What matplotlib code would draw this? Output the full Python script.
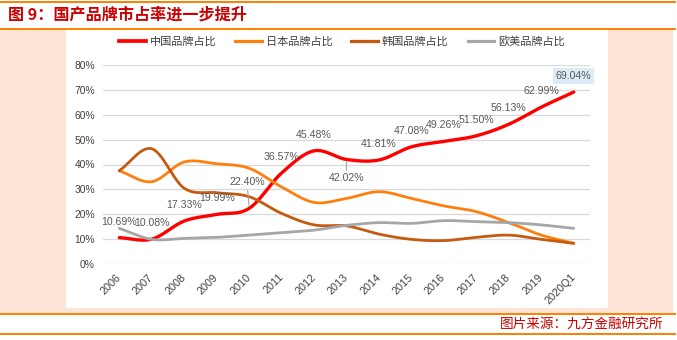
import matplotlib

matplotlib.use("Agg")

import matplotlib.pyplot as plt
import numpy as np
from matplotlib.lines import Line2D
from matplotlib.patches import Rectangle


YEARS = ["2006", "2007", "2008", "2009", "2010", "2011", "2012", "2013",
         "2014", "2015", "2016", "2017", "2018", "2019", "2020Q1"]
CHINA = [10.69, 10.08, 17.33, 19.99, 22.40, 36.57, 45.48, 42.02,
         41.81, 47.08, 49.26, 51.50, 56.13, 62.99, 69.04]
JAPAN = [37.5, 33.1, 41.0, 40.3, 38.5, 31.0, 24.8, 26.4,
         29.1, 26.4, 23.4, 21.1, 16.7, 11.7, 8.4]
KOREA = [37.5, 46.3, 30.5, 28.7, 27.1, 20.4, 15.8, 15.4,
         12.1, 10.0, 9.5, 10.8, 11.7, 10.0, 8.4]
WESTERN = [14.4, 10.0, 10.4, 10.8, 11.7, 12.7, 13.7, 15.6,
           16.7, 16.4, 17.5, 17.1, 16.7, 15.8, 14.4]
SERIES_NAMES = ["中国品牌占比", "日本品牌占比", "韩国品牌占比", "欧美品牌占比"]
Y_TICKS = [0, 10, 20, 30, 40, 50, 60, 70, 80]

TITLE = "图 9：国产品牌市占率进一步提升"
SOURCE = "图片来源：九方金融研究所"

W, H = 677, 340
RED = "#FF0000"
ORANGE = "#FF7F0E"
BROWN = "#C55A11"
GREY = "#A6A6A6"
FRAME = "#FF7F00"
PEACH = "#FCE4D6"
TITLE_RED = "#CC0000"
TEXT = "#595959"
TICK = "#404040"
CJK = ["Noto Sans CJK SC", "DejaVu Sans"]


def fx(px):
    return px / W


def fy(py):
    return 1 - py / H


def smooth(xs, ys, n=24):
    # Catmull-Rom curve through the points, like Excel's smoothed line
    pts = np.column_stack([xs, ys]).astype(float)
    pad = np.vstack([2 * pts[0] - pts[1], pts, 2 * pts[-1] - pts[-2]])
    t = np.linspace(0, 1, n, endpoint=False)[:, None]
    segs = []
    for i in range(len(pts) - 1):
        p0, p1, p2, p3 = pad[i:i + 4]
        segs.append(0.5 * (2 * p1 + (p2 - p0) * t
                           + (2 * p0 - 5 * p1 + 4 * p2 - p3) * t ** 2
                           + (3 * p1 - p0 - 3 * p2 + p3) * t ** 3))
    segs.append(pts[-1:])
    out = np.vstack(segs)
    return out[:, 0], out[:, 1]


def hline(fig, y, x0=0, x1=675, lw=1.4):
    fig.add_artist(Line2D([fx(x0), fx(x1)], [fy(y), fy(y)], transform=fig.transFigure,
                          color=FRAME, linewidth=lw))


def main():
    fig = plt.figure(figsize=(W / 100, H / 100), dpi=100)
    fig.patch.set_facecolor("white")

    # frame: peach panel, white chart area, orange rules
    fig.add_artist(Rectangle((fx(0), fy(313)), fx(673), (313 - 29) / H,
                             transform=fig.transFigure, facecolor=PEACH, edgecolor="none", zorder=0))
    fig.add_artist(Rectangle((fx(66), fy(308)), fx(608 - 66), (308 - 30) / H,
                             transform=fig.transFigure, facecolor="white", edgecolor="none", zorder=0))
    hline(fig, 1.5)
    hline(fig, 28.5)
    hline(fig, 314)
    hline(fig, 334)

    fig.text(fx(8), fy(15), TITLE, color=TITLE_RED, fontsize=11.6, fontweight="bold",
             family=CJK, ha="left", va="center")
    fig.text(fx(663), fy(324), SOURCE, color=TITLE_RED, fontsize=9.8,
             family=CJK, ha="right", va="center")

    ax = fig.add_axes([fx(103), fy(264.3), fx(590 - 103), (264.3 - 64.7) / H])
    ax.set_facecolor("none")
    x = np.arange(len(YEARS))

    series = [(CHINA, RED, 2.4), (JAPAN, ORANGE, 2.0), (KOREA, BROWN, 2.0), (WESTERN, GREY, 2.0)]
    handles = []
    for (vals, color, lw), name in zip(series, SERIES_NAMES):
        sx, sy = smooth(x, vals)
        ax.plot(sx, sy, color=color, linewidth=lw, solid_capstyle="round", zorder=3)
        handles.append(Line2D([], [], color=color, linewidth=lw + 0.3, label=name))

    # data labels for the domestic share
    for i, v in enumerate(CHINA):
        offset = (0, 16)
        props = None
        bbox = None
        if YEARS[i] == "2010":
            offset = (-2, 26)
            props = dict(arrowstyle="-", color=GREY, linewidth=0.8, shrinkA=0, shrinkB=2)
        elif YEARS[i] == "2013":
            offset = (0, -19)
            props = dict(arrowstyle="-", color=GREY, linewidth=0.8, shrinkA=0, shrinkB=2)
        if i == len(CHINA) - 1:
            bbox = dict(boxstyle="square,pad=0.25", facecolor="#DDEBF7", edgecolor="none")
        ax.annotate(f"{v:.2f}%", (x[i], v), xytext=offset, textcoords="offset pixels",
                    ha="center", va="center", fontsize=7.6, color=TEXT,
                    family="Liberation Sans", arrowprops=props, bbox=bbox, zorder=4)

    ax.set_xlim(-0.5, len(YEARS) - 0.5)
    ax.set_ylim(0, 80)
    ax.set_yticks(Y_TICKS)
    ax.set_yticklabels([f"{t}%" for t in Y_TICKS])
    ax.set_xticks(x)
    ax.set_xticklabels(YEARS, rotation=45, ha="right", va="center", rotation_mode="anchor")
    ax.tick_params(axis="y", length=0, pad=5.8, labelsize=7.4, labelcolor=TICK)
    ax.tick_params(axis="x", length=0, pad=8, labelsize=7.8, labelcolor=TICK)
    for lab in ax.get_xticklabels() + ax.get_yticklabels():
        lab.set_family("Liberation Sans")
    ax.grid(axis="y", color="#D9D9D9", linewidth=0.9, zorder=0)
    ax.set_axisbelow(True)
    for s in ax.spines.values():
        s.set_visible(False)

    fig.legend(handles=handles, loc="center", bbox_to_anchor=(fx(342), fy(41.5)), ncol=4,
               frameon=False, prop={"family": CJK, "size": 8}, labelcolor=TICK,
               handlelength=2.4, handletextpad=0.35, columnspacing=1.7)

    fig.savefig("out.png", dpi=100, facecolor="white")
    plt.close(fig)


if __name__ == "__main__":
    main()
